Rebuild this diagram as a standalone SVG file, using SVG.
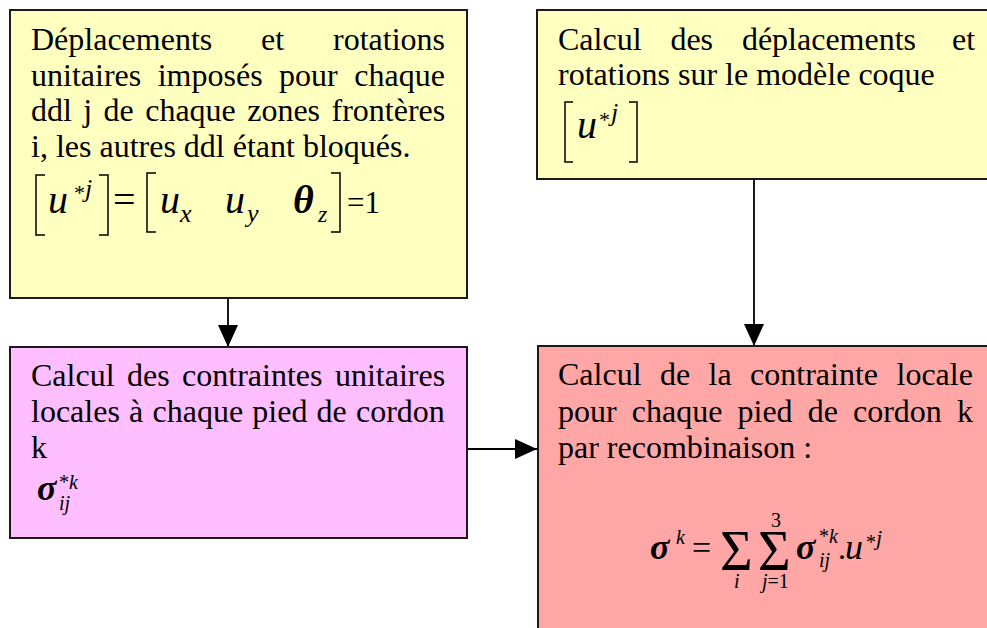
<svg xmlns="http://www.w3.org/2000/svg" width="987" height="628" viewBox="0 0 987 628">
<style>
.t{font-family:"Liberation Serif","Times New Roman",serif;font-size:32px;fill:#000}
.i{font-style:italic}
.b{font-style:italic;font-weight:bold}
.br{fill:none;stroke:#000;stroke-width:1.5}
.box{stroke:#1a1a1a;stroke-width:2}
.con{stroke:#000;stroke-width:1.8;fill:none}
</style>
<defs>
<marker id="ah" markerUnits="userSpaceOnUse" markerWidth="22" markerHeight="20" refX="22" refY="10" orient="auto">
<path d="M0,0 L22,10 L0,20 Z" fill="#000"/>
</marker>
</defs>
<rect width="987" height="628" fill="#fff"/>

<g id="connectors">
<line class="con" x1="228" y1="299" x2="228" y2="347" marker-end="url(#ah)"/>
<line class="con" x1="468" y1="449" x2="537" y2="449" marker-end="url(#ah)"/>
<line class="con" x1="754" y1="180" x2="754" y2="346" marker-end="url(#ah)"/>
</g>

<g id="node-imposed">
<rect class="box" x="10" y="10" width="457" height="288" fill="#FFFFC0"/>
<text class="t" y="50"><tspan x="31">Déplacements</tspan><tspan x="261">et</tspan><tspan x="333">rotations</tspan></text>
<text class="t" y="85.5"><tspan x="31">unitaires</tspan><tspan x="157.7">imposés</tspan><tspan x="279.1">pour</tspan><tspan x="354.3">chaque</tspan></text>
<text class="t" y="121"><tspan x="31">ddl</tspan><tspan x="83.3">j</tspan><tspan x="103.6">de</tspan><tspan x="145.2">chaque</tspan><tspan x="247.2">zones</tspan><tspan x="331.5">frontères</tspan></text>
<text class="t" x="31" y="156.5">i, les autres ddl étant bloqués.</text>
<path class="br" d="M45,175 H36 V235 H45"/>
<path class="br" d="M99,175 H108 V235 H99"/>
<path class="br" d="M156,173 H147 V232 H156"/>
<path class="br" d="M331,173 H340 V232 H331"/>
<text class="t i" x="48" y="213" style="font-size:40px">u</text>
<text class="t" x="74" y="200" style="font-size:22px">*</text>
<text class="t i" x="85" y="197" style="font-size:26px">j</text>
<text class="t" x="113" y="213" style="font-size:40px">=</text>
<text class="t i" x="160" y="213" style="font-size:40px">u</text>
<text class="t i" x="180" y="222" style="font-size:26px">x</text>
<text class="t i" x="225" y="213" style="font-size:40px">u</text>
<text class="t i" x="247" y="222" style="font-size:26px">y</text>
<text class="t b" x="293" y="213" style="font-size:40px">θ</text>
<text class="t i" x="318" y="222" style="font-size:24px">z</text>
<text class="t" x="347" y="213" style="font-size:31px">=1</text>
</g>

<g id="node-shell">
<rect class="box" x="537" y="10" width="460" height="169" fill="#FFFFC0"/>
<text class="t" y="50"><tspan x="558">Calcul</tspan><tspan x="670.4">des</tspan><tspan x="741.9">déplacements</tspan><tspan x="952">et</tspan></text>
<text class="t" x="558" y="85">rotations sur le modèle coque</text>
<path class="br" d="M573,102 H565 V162 H573"/>
<path class="br" d="M629,102 H637 V162 H629"/>
<text class="t i" x="577" y="138" style="font-size:40px">u</text>
<text class="t" x="599" y="127" style="font-size:22px">*</text>
<text class="t i" x="611" y="121" style="font-size:26px">j</text>
</g>

<g id="node-unit-stress">
<rect class="box" x="10" y="347" width="457" height="191" fill="#FFBEFF"/>
<text class="t" y="386"><tspan x="31">Calcul</tspan><tspan x="127">des</tspan><tspan x="182.1">contraintes</tspan><tspan x="334.9">unitaires</tspan></text>
<text class="t" y="422"><tspan x="31">locales</tspan><tspan x="129.1">à</tspan><tspan x="152.5">chaque</tspan><tspan x="252.3">pied</tspan><tspan x="316.6">de</tspan><tspan x="356">cordon</tspan></text>
<text class="t" x="31" y="458">k</text>
<text class="t b" x="37" y="500" style="font-size:36px">σ</text>
<text class="t" x="59" y="489" style="font-size:20px">*<tspan class="i">k</tspan></text>
<text class="t i" x="59" y="510" style="font-size:20px">ij</text>
</g>

<g id="node-recombination">
<rect class="box" x="538" y="346" width="460" height="300" fill="#FFA6A6"/>
<text class="t" y="385"><tspan x="558">Calcul</tspan><tspan x="660">de</tspan><tspan x="708.6">la</tspan><tspan x="750.1">contrainte</tspan><tspan x="896.5">locale</tspan></text>
<text class="t" y="422"><tspan x="558">pour</tspan><tspan x="631.8">chaque</tspan><tspan x="737.5">pied</tspan><tspan x="807.7">de</tspan><tspan x="853">cordon</tspan><tspan x="957">k</tspan></text>
<text class="t" x="558" y="458">par recombinaison :</text>
<text class="t b" x="650" y="559" style="font-size:36px">σ</text>
<text class="t i" x="676" y="544" style="font-size:20px">k</text>
<text class="t" x="692" y="559" style="font-size:34px">=</text>
<text class="t" x="720" y="570" style="font-size:56px">Σ</text>
<text class="t i" x="734" y="588" style="font-size:20px">i</text>
<text class="t" x="758" y="570" style="font-size:56px">Σ</text>
<text class="t" x="771" y="527" style="font-size:20px">3</text>
<text class="t" x="762" y="588" style="font-size:20px"><tspan class="i">j</tspan>=1</text>
<text class="t b" x="796" y="559" style="font-size:36px">σ</text>
<text class="t" x="819" y="543" style="font-size:20px">*<tspan class="i">k</tspan></text>
<text class="t i" x="819" y="567" style="font-size:20px">ij</text>
<text class="t" x="838" y="559">.</text>
<text class="t i" x="845" y="559" style="font-size:36px">u</text>
<text class="t" x="866" y="549" style="font-size:20px">*</text>
<text class="t i" x="876" y="545" style="font-size:22px">j</text>
</g>
</svg>
